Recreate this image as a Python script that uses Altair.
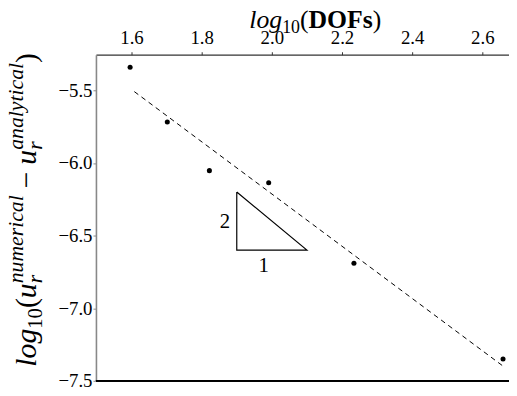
import altair as alt
import pandas as pd

# data
log_dofs = [1.596, 1.702, 1.822, 1.991, 2.234, 2.659]
log_err = [-5.342, -5.718, -6.053, -6.137, -6.690, -7.350]
tri_x = [1.9, 1.9, 2.1, 1.9]
tri_y = [-6.2, -6.6, -6.6, -6.2]
tri_labels = ["2", "1"]
tri_label_x = [1.866, 1.977]
tri_label_y = [-6.41, -6.71]
x_ticks = [1.6, 1.8, 2.0, 2.2, 2.4, 2.6]
y_ticks = [-7.5, -7.0, -6.5, -6.0, -5.5]
fit_extent = [1.608, 2.66]

W, H = 418, 330
SERIF = "'Liberation Serif', 'Times New Roman', Times, serif"
TICKF = SERIF

pts = pd.DataFrame({"x": log_dofs, "y": log_err})
tri = pd.DataFrame({"x": tri_x, "y": tri_y, "i": list(range(len(tri_x)))})
lab = pd.DataFrame({"x": tri_label_x, "y": tri_label_y, "t": tri_labels})

xs = alt.Scale(domain=[1.4986, 2.676], nice=False, zero=False)
ys = alt.Scale(domain=[-7.5, -5.255], nice=False, zero=False)

xaxis = alt.Axis(orient="top", values=x_ticks, format=".1f", title=None,
                 grid=False, domainColor="#333", tickColor="#333", tickSize=3,
                 labelPadding=4, labelFont=TICKF, labelFontSize=19, labelColor="black",
                 domainWidth=1.2)
yaxis = alt.Axis(values=y_ticks, format=".1f", title=None, grid=False,
                 domainColor="#888", tickColor="#888", tickSize=3, labelPadding=1,
                 labelFont=TICKF, labelFontSize=19, labelColor="black", domainWidth=1.6)

X = alt.X("x:Q", scale=xs, axis=xaxis)
Y = alt.Y("y:Q", scale=ys, axis=yaxis)
Xn = alt.X("x:Q", scale=xs)
Yn = alt.Y("y:Q", scale=ys)

points = alt.Chart(pts).mark_circle(size=26, color="black", opacity=1).encode(x=X, y=Y)

fit = alt.Chart(pts).transform_regression("x", "y", extent=fit_extent).mark_line(
    color="black", strokeWidth=1, strokeDash=[5, 4]).encode(x=Xn, y=Yn)

triangle = alt.Chart(tri).mark_line(color="black", strokeWidth=1.2).encode(
    x=Xn, y=Yn, order="i:O")

tlabels = alt.Chart(lab).mark_text(font=SERIF, fontSize=21, color="black").encode(
    x=Xn, y=Yn, text="t:N")

bottom = alt.Chart(pts).mark_rule(color="black", strokeWidth=1.2).encode(
    x=alt.value(0), x2=alt.value(W), y=alt.value(H))

def piece(text, x, y, size=26, style="normal", weight="normal", angle=0):
    return alt.Chart(pts).transform_aggregate(n="count()").mark_text(
        text=text, font=SERIF, fontSize=size, fontStyle=style, fontWeight=weight,
        color="black", align="center", baseline="alphabetic", angle=angle
    ).encode(x=alt.value(x), y=alt.value(y))

xtitle = [
    piece("log", 171.8, -27, 26, style="italic"),
    piece("10", 197.4, -22, 18),
    piece("(", 210.8, -27, 26),
    piece("DOFs", 247.6, -27, 26, weight="bold"),
    piece(")", 284.5, -27, 26),
]
A = 270
M, S = 30, 22
ytitle = [
    piece("log", -61, 296.5, M, style="italic", angle=A),
    piece("10", -55, 266.9, 21, angle=A),
    piece("(", -61, 251.4, M, angle=A),
    piece("u", -61, 238.9, M, style="italic", angle=A),
    piece("r", -55, 227.1, S, style="italic", angle=A),
    piece("numerical", -74, 186.8, S, style="italic", angle=A),
    piece("\u2212", -61, 126.8, M, angle=A),
    piece("u", -61, 103.8, M, style="italic", angle=A),
    piece("r", -55, 92, S, style="italic", angle=A),
    piece("analytical", -74, 52.3, S, style="italic", angle=A),
    piece(")", -61, 3.3, M, angle=A),
]

chart = alt.layer(points, fit, triangle, tlabels, bottom, *xtitle, *ytitle).properties(
    width=W, height=H,
    autosize=alt.AutoSizeParams(type="none"),
    padding={"left": 89, "top": 45, "right": 0, "bottom": 5},
).configure_view(stroke=None)

chart.save("out.html", embed_options={"renderer": "svg", "actions": False})
